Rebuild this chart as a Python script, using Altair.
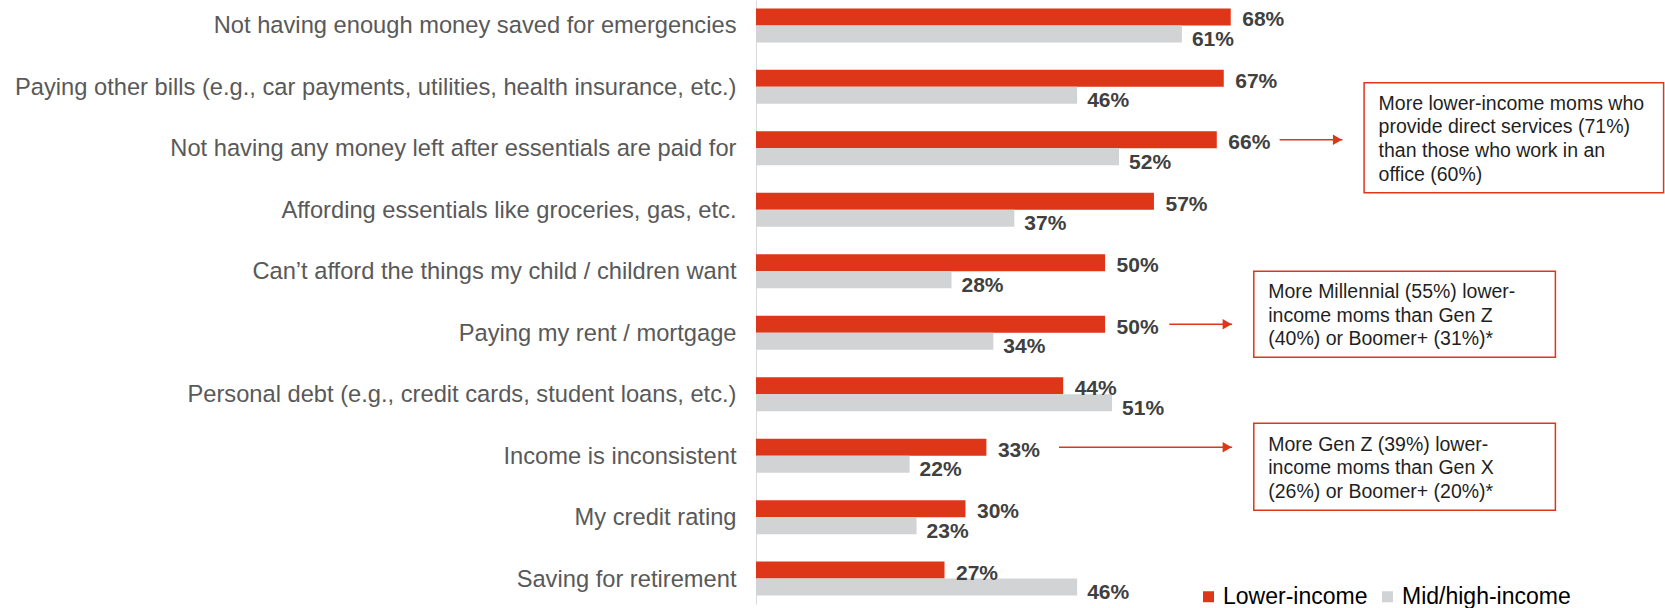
import altair as alt
import pandas as pd

# ---- data -------------------------------------------------------------
categories = [
    "Not having enough money saved for emergencies",
    "Paying other bills (e.g., car payments, utilities, health insurance, etc.)",
    "Not having any money left after essentials are paid for",
    "Affording essentials like groceries, gas, etc.",
    "Can\u2019t afford the things my child / children want",
    "Paying my rent / mortgage",
    "Personal debt (e.g., credit cards, student loans, etc.)",
    "Income is inconsistent",
    "My credit rating",
    "Saving for retirement",
]
lower_income = [68, 67, 66, 57, 50, 50, 44, 33, 30, 27]
mid_high_income = [61, 46, 52, 37, 28, 34, 51, 22, 23, 46]

groups = ["Lower-income", "Mid/high-income"]
palette = ["#DD3619", "#D2D3D5"]

# callouts: row they point from, arrow start/end and box span (in % units)
callout_rows = [2, 5, 7]
arrow_start = [75.0, 59.2, 43.4]
arrow_end = [84.0, 68.2, 68.2]
box_left = [87.1, 71.3, 71.3]
box_right = [130.0, 114.5, 114.5]
box_shift = [-2.0, -10.0, 19.6]      # box centre relative to the arrow, px
box_height = [110.0, 86.0, 87.0]
callout_text = [
    ["More lower-income moms who", "provide direct services (71%)",
     "than those who work in an", "office (60%)"],
    ["More Millennial (55%) lower-", "income moms than Gen Z",
     "(40%) or Boomer+ (31%)*"],
    ["More Gen Z (39%) lower-", "income moms than Gen X",
     "(26%) or Boomer+ (20%)*"],
]

# ---- layout -----------------------------------------------------------
FONT = "Liberation Sans"
RED = palette[0]
PLOT_W = 909
PLOT_H = 604
X_MAX = 130.2
PAD_INNER = 0.4472
PAD_OUTER = 0.1366
LINE_H = 23.7

step = PLOT_H / (len(categories) - PAD_INNER + 2 * PAD_OUTER)
band = step * (1 - PAD_INNER)


def red_center(i):
    return step * PAD_OUTER + i * step + band / 4


rows = []
for cat, lo, mh in zip(categories, lower_income, mid_high_income):
    rows.append({"category": cat, "group": groups[0], "value": lo})
    rows.append({"category": cat, "group": groups[1], "value": mh})
df = pd.DataFrame(rows)

y_enc = alt.Y(
    "category:N",
    sort=categories,
    scale=alt.Scale(paddingInner=PAD_INNER, paddingOuter=PAD_OUTER, round=False),
    axis=alt.Axis(
        title=None,
        labelFontSize=23.7,
        labelFont=FONT,
        labelColor="#595959",
        labelPadding=20,
        labelLimit=900,
        labelOffset=1,
        ticks=False,
        grid=False,
        domain=True,
        domainColor="#D9D9D9",
        domainWidth=1,
        minExtent=756,
        maxExtent=756,
    ),
)
yoff_enc = alt.YOffset(
    "group:N", sort=groups,
    scale=alt.Scale(domain=groups, paddingInner=0, paddingOuter=0),
)
x_scale = alt.Scale(domain=[0, X_MAX], nice=False, zero=True)

base = alt.Chart(df)

bars = base.mark_bar().encode(
    y=y_enc,
    yOffset=yoff_enc,
    x=alt.X("value:Q", scale=x_scale, axis=None),
    color=alt.Color(
        "group:N",
        scale=alt.Scale(domain=groups, range=palette),
        legend=alt.Legend(
            title=None,
            orient="none",
            legendX=441,
            legendY=585,
            direction="horizontal",
            symbolType="square",
            symbolSize=121,
            symbolStrokeWidth=0,
            labelFontSize=23,
            labelFont=FONT,
            labelColor="#000000",
            labelOffset=3,
            columnPadding=8,
            padding=0,
            labelLimit=400,
        ),
    ),
)


def value_labels(group, dx, dy):
    return (
        base.transform_filter(alt.datum.group == group)
        .transform_calculate(label="datum.value + '%'")
        .mark_text(align="left", baseline="middle", dx=dx, dy=dy,
                   font=FONT, fontSize=21, fontWeight="bold", color="#404040")
        .encode(y=y_enc, yOffset=yoff_enc,
                x=alt.X("value:Q", scale=x_scale), text="label:N")
    )


labels_lo = value_labels(groups[0], 11.5, 3.5)
labels_mh = value_labels(groups[1], 10, 6)

arrows_df = pd.DataFrame({
    "category": [categories[r] for r in callout_rows],
    "group": groups[0],
    "x0": arrow_start,
    "x1": arrow_end,
})
arrow_lines = alt.Chart(arrows_df).mark_rule(color=RED, strokeWidth=1.5).encode(
    y=y_enc, yOffset=yoff_enc,
    x=alt.X("x0:Q", scale=x_scale), x2="x1:Q",
)
arrow_heads = alt.Chart(arrows_df).mark_point(
    shape="triangle-right", filled=True, size=110, color=RED, opacity=1, xOffset=-5
).encode(y=y_enc, yOffset=yoff_enc, x=alt.X("x1:Q", scale=x_scale))

layers = [bars, labels_lo, labels_mh, arrow_lines, arrow_heads]

for r, x0, x1, shift, h, lines in zip(callout_rows, box_left, box_right,
                                      box_shift, box_height, callout_text):
    cy = red_center(r) + shift
    first_line = cy + 1.5 - (len(lines) - 1) * LINE_H / 2
    box_df = pd.DataFrame({"x0": [x0], "x1": [x1], "lines": [lines]})
    box = alt.Chart(box_df).mark_rect(
        fill="white", stroke=RED, strokeWidth=1.5
    ).encode(
        x=alt.X("x0:Q", scale=x_scale), x2="x1:Q",
        y=alt.value(cy - h / 2), y2=alt.value(cy + h / 2),
    )
    txt = alt.Chart(box_df).mark_text(
        align="left", baseline="middle", dx=14.5, font=FONT, fontSize=19.5,
        color="#1F1F1F", lineHeight=LINE_H,
    ).encode(
        x=alt.X("x0:Q", scale=x_scale),
        y=alt.value(first_line),
        text="lines",
    )
    layers += [box, txt]

chart = (
    alt.layer(*layers)
    .properties(width=PLOT_W, height=PLOT_H, padding=0)
    .configure_view(strokeWidth=0)
)

chart.save("out.html", embed_options={"renderer": "svg", "actions": False})
